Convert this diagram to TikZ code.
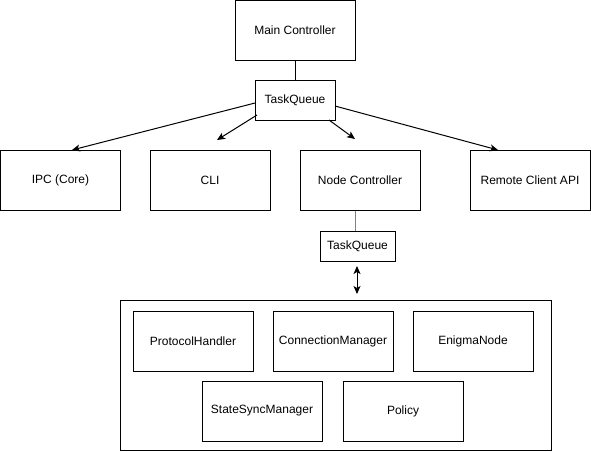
\documentclass[tikz,border=0pt]{standalone}
\usepackage{fontspec}
\setmainfont{Liberation Sans}
\usetikzlibrary{arrows.meta}
\begin{document}
\begin{tikzpicture}[x=1pt,y=-1pt,
  box/.style={draw=black,line width=1pt,minimum width=120pt,minimum height=60pt,inner sep=0pt,font=\fontsize{12}{14}\selectfont},
  qbox/.style={box,minimum width=80pt,minimum height=40pt},
  arr/.style={draw=black,line width=1pt,-{Stealth[length=8pt,width=7pt,inset=2pt]}},
  darr/.style={draw=black,line width=1pt,{Stealth[length=8pt,width=7pt,inset=2pt]}-{Stealth[length=8pt,width=7pt,inset=2pt]}}]
\useasboundingbox (0,0) rectangle (591,451);
\node[box] (mc) at (295,30) {Main Controller};
\node[qbox] (tq1) at (295,100) {TaskQueue};
\node[box] (ipc) at (60.5,180) {IPC (Core)};
\node[box] (cli) at (210,180) {CLI};
\node[box] (nc) at (360,180) {Node Controller};
\node[box] (rc) at (530,180) {Remote Client API};
\node[qbox,minimum width=75pt,minimum height=30pt] (tq2) at (357.5,246) {TaskQueue};
\node[draw=black,line width=1pt,minimum width=431pt,minimum height=150pt,inner sep=0pt] (cont) at (335.5,375) {};
\node[box] (ph) at (193,341) {ProtocolHandler};
\node[box] (cm) at (333,341) {ConnectionManager};
\node[box] (en) at (473,341) {EnigmaNode};
\node[box] (ssm) at (262,411) {StateSyncManager};
\node[box] (pol) at (403,411) {Policy};
\draw[line width=1pt] (mc) -- (tq1);
\coordinate (gx) at (355,0);
\draw[line width=1pt,draw=gray] (nc.south -| gx) -- (tq2.north -| gx);
\coordinate (s1) at (255,103);
\coordinate (e1) at (72,150);
\coordinate (s2) at (257,115);
\coordinate (e2) at (217,140);
\coordinate (s3) at (329,120);
\coordinate (e3) at (355,139);
\coordinate (s4) at (335,106);
\coordinate (e4) at (498,150);
\coordinate (d1) at (357,266);
\coordinate (d2) at (357,294);
\draw[arr] (s1) -- (e1);
\draw[arr] (s2) -- (e2);
\draw[arr] (s3) -- (e3);
\draw[arr] (s4) -- (e4);
\draw[darr] (d1) -- (d2);
\end{tikzpicture}
\end{document}
